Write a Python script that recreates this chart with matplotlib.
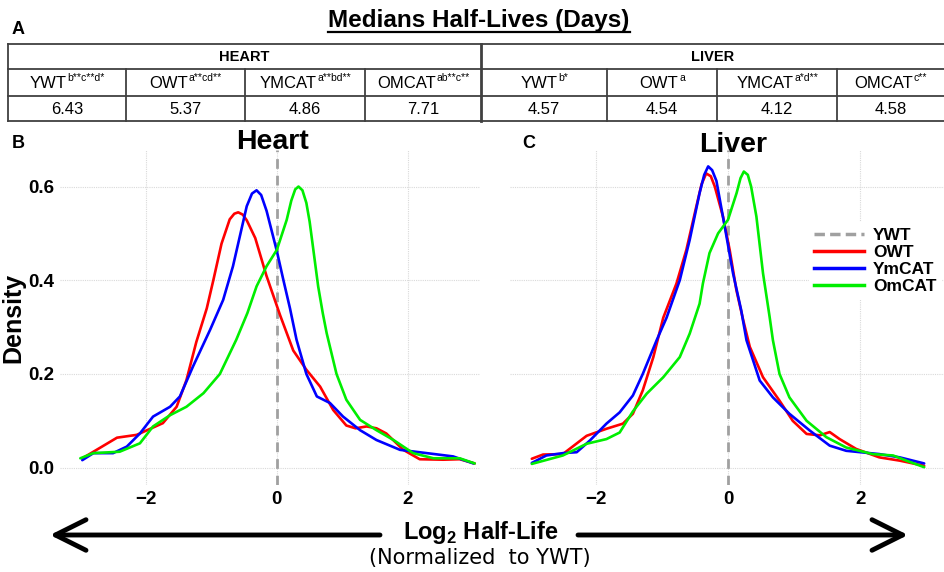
import numpy as np
import matplotlib
matplotlib.use("Agg")
import matplotlib.pyplot as plt
from matplotlib.lines import Line2D

plt.rcParams['font.family'] = ['Liberation Sans', 'DejaVu Sans']
plt.rcParams['mathtext.fontset'] = 'custom'
plt.rcParams['mathtext.rm'] = 'Liberation Sans'
plt.rcParams['mathtext.bf'] = 'Liberation Sans:bold'

# table data (median half-lives, days)
tissues = ['HEART', 'LIVER']
heart_groups = ['YWT', 'OWT', 'YMCAT', 'OMCAT']
heart_marks = ['b**c**d*', 'a**cd**', 'a**bd**', 'ab**c**']
heart_medians = ['6.43', '5.37', '4.86', '7.71']
liver_groups = ['YWT', 'OWT', 'YMCAT', 'OMCAT']
liver_marks = ['b*', 'a', 'a*d**', 'c**']
liver_medians = ['4.57', '4.54', '4.12', '4.58']

# density curves (log2 half-life normalised to YWT)
heart_owt_x = [-2.97, -2.80, -2.44, -2.14, -1.74, -1.53, -1.38, -1.23, -1.07, -0.97, -0.845, -0.72,
               -0.65, -0.59, -0.52, -0.46, -0.33, -0.16, 0.05, 0.25, 0.45, 0.66, 0.86, 1.06, 1.20,
               1.37, 1.52, 1.67, 1.93, 2.18, 2.54, 2.79, 3.02]
heart_owt_y = [0.020, 0.034, 0.064, 0.070, 0.095, 0.130, 0.187, 0.268, 0.340, 0.400, 0.478, 0.530,
               0.542, 0.545, 0.540, 0.528, 0.490, 0.410, 0.325, 0.250, 0.209, 0.173, 0.123, 0.090,
               0.084, 0.088, 0.084, 0.073, 0.038, 0.018, 0.017, 0.018, 0.009]

heart_ymcat_x = [-2.97, -2.80, -2.50, -2.29, -2.09, -1.89, -1.63, -1.48, -1.28, -1.02, -0.82, -0.67,
                 -0.565, -0.46, -0.38, -0.31, -0.24, -0.157, 0.0, 0.10, 0.20, 0.30, 0.45, 0.61,
                 0.81, 1.01, 1.27, 1.52, 1.88, 2.29, 2.69, 3.00]
heart_ymcat_y = [0.016, 0.031, 0.031, 0.045, 0.073, 0.109, 0.130, 0.152, 0.216, 0.294, 0.358, 0.430,
                 0.494, 0.558, 0.585, 0.592, 0.582, 0.548, 0.462, 0.400, 0.340, 0.273, 0.200, 0.152,
                 0.138, 0.109, 0.080, 0.059, 0.038, 0.031, 0.024, 0.009]

heart_omcat_x = [-3.00, -2.80, -2.40, -2.09, -1.89, -1.63, -1.38, -1.12, -0.87, -0.62, -0.45, -0.31,
                 -0.157, 0.0, 0.15, 0.22, 0.28, 0.33, 0.39, 0.45, 0.50, 0.55, 0.63, 0.70, 0.76, 0.91,
                 1.06, 1.27, 1.52, 1.78, 2.08, 2.39, 2.79, 3.02]
heart_omcat_y = [0.020, 0.031, 0.034, 0.052, 0.088, 0.112, 0.130, 0.159, 0.200, 0.273, 0.330, 0.387,
                 0.430, 0.465, 0.529, 0.570, 0.594, 0.600, 0.592, 0.565, 0.525, 0.472, 0.387, 0.330,
                 0.287, 0.200, 0.145, 0.102, 0.080, 0.059, 0.031, 0.020, 0.020, 0.009]

liver_owt_x = [-2.97, -2.80, -2.50, -2.14, -1.84, -1.59, -1.44, -1.29, -1.13, -0.98, -0.78, -0.63,
               -0.48, -0.40, -0.33, -0.26, -0.20, -0.076, 0.025, 0.127, 0.23, 0.33, 0.53, 0.78,
               0.98, 1.19, 1.39, 1.54, 1.69, 1.94, 2.29, 2.60, 2.97]
liver_owt_y = [0.019, 0.028, 0.029, 0.068, 0.083, 0.094, 0.115, 0.165, 0.236, 0.320, 0.393, 0.465,
               0.557, 0.605, 0.628, 0.622, 0.600, 0.536, 0.465, 0.379, 0.315, 0.258, 0.193, 0.143,
               0.100, 0.072, 0.069, 0.076, 0.061, 0.040, 0.022, 0.015, 0.004]

liver_ymcat_x = [-2.97, -2.75, -2.50, -2.29, -2.09, -1.84, -1.64, -1.44, -1.29, -1.08, -0.93, -0.73,
                 -0.58, -0.43, -0.36, -0.30, -0.24, -0.175, -0.05, 0.076, 0.20, 0.28, 0.48, 0.68,
                 0.93, 1.24, 1.54, 1.79, 2.29, 2.60, 2.97]
liver_ymcat_y = [0.010, 0.026, 0.031, 0.033, 0.058, 0.094, 0.118, 0.154, 0.200, 0.272, 0.320, 0.400,
                 0.486, 0.586, 0.625, 0.643, 0.635, 0.612, 0.515, 0.415, 0.336, 0.272, 0.186, 0.150,
                 0.115, 0.079, 0.047, 0.036, 0.029, 0.022, 0.009]

liver_omcat_x = [-2.97, -2.50, -2.14, -1.84, -1.64, -1.44, -1.23, -0.98, -0.73, -0.58, -0.43, -0.38,
                 -0.28, -0.15, 0.0, 0.13, 0.19, 0.24, 0.30, 0.35, 0.43, 0.53, 0.63, 0.68, 0.78, 0.93,
                 1.19, 1.49, 1.79, 2.19, 2.50, 2.70, 2.97]
liver_omcat_y = [0.008, 0.026, 0.051, 0.061, 0.075, 0.120, 0.158, 0.193, 0.236, 0.286, 0.350, 0.393,
                 0.458, 0.500, 0.529, 0.586, 0.618, 0.632, 0.625, 0.600, 0.536, 0.415, 0.322, 0.272,
                 0.200, 0.150, 0.100, 0.065, 0.043, 0.029, 0.026, 0.015, 0.001]

series_names = ['OWT', 'YmCAT', 'OmCAT']
series_colors = ['#ff0000', '#0000ff', '#00ee00']

W, H = 944, 572
fig = plt.figure(figsize=(W / 100, H / 100), dpi=100)

# overlay in pixel coordinates for the table, labels and arrow
over = fig.add_axes([0, 0, 1, 1], zorder=0)
over.set_xlim(0, W)
over.set_ylim(H, 0)
over.axis('off')


def px_axes(l, t, r, b):
    return fig.add_axes([l / W, (H - b) / H, (r - l) / W, (b - t) / H], zorder=2)


ax_h = px_axes(60, 150, 480, 485)
ax_l = px_axes(510, 150, 944, 485)

panels = [
    (ax_h, (-3.31, 3.10),
     [(heart_owt_x, heart_owt_y), (heart_ymcat_x, heart_ymcat_y), (heart_omcat_x, heart_omcat_y)]),
    (ax_l, (-3.30, 3.27),
     [(liver_owt_x, liver_owt_y), (liver_ymcat_x, liver_ymcat_y), (liver_omcat_x, liver_omcat_y)]),
]

for ax, xl, curves in panels:
    ax.patch.set_alpha(0)
    for s in ax.spines.values():
        s.set_visible(False)
    ax.set_xlim(*xl)
    ax.set_ylim(-0.037, 0.678)
    ax.set_xticks([-2, 0, 2])
    ax.set_xticklabels(['\u22122', '0', '2'])
    ax.set_yticks([0.0, 0.2, 0.4, 0.6])
    ax.set_yticklabels(['0.0', '0.2', '0.4', '0.6'])
    ax.tick_params(length=0, labelsize=13.5, pad=4)
    for lab in ax.get_xticklabels() + ax.get_yticklabels():
        lab.set_fontweight('bold')
    ax.grid(True, color='#d9d9d9', lw=0.8, ls=(0, (1, 1)))
    ax.set_axisbelow(True)
    ax.axvline(0, color='#a0a0a0', lw=2, ls=(0, (3.5, 2.5)), zorder=1)
    for (x, y), c in zip(curves, series_colors):
        ax.plot(x, y, color=c, lw=1.9, solid_joinstyle='round', solid_capstyle='round', zorder=3)

ax_l.set_yticklabels([])
ax_h.set_ylabel('Density', fontsize=18, fontweight='bold', labelpad=2)

over.text(272, 142, 'Heart', fontsize=20.5, fontweight='heavy', ha='center', va='center')
over.text(733, 145, 'Liver', fontsize=20.5, fontweight='heavy', ha='center', va='center')
over.text(12, 143, 'B', fontsize=13, fontweight='bold', ha='left', va='center')
over.text(522, 143, 'C', fontsize=13, fontweight='bold', ha='left', va='center')

# legend
handles = [Line2D([], [], color='#a0a0a0', lw=2.5, ls=(0, (3, 1.5)))]
handles += [Line2D([], [], color=c, lw=2.5) for c in series_colors]
ax_l.legend(handles, ['YWT'] + series_names, loc='center left',
            bbox_to_anchor=(800 / W, (H - 261) / H), bbox_transform=fig.transFigure,
            frameon=True, facecolor='white', edgecolor='none', framealpha=1,
            prop={'weight': 'bold', 'size': 12.5}, handlelength=2.9, handletextpad=0.5,
            labelspacing=0.12, borderpad=0.3)

renderer = fig.canvas.get_renderer()


def text_width(t):
    bb = t.get_window_extent(renderer=renderer)
    return bb.width


# title and table (panel A)
ttl = over.text(479, 20, 'Medians Half-Lives (Days)', fontsize=17.5, fontweight='bold',
                ha='center', va='center')
tw = text_width(ttl)
over.plot([479 - tw / 2, 479 + tw / 2], [32, 32], color='black', lw=1.6)
over.text(12, 30, 'A', fontsize=13, fontweight='bold', ha='left', va='center')

tc = '#404040'
row_y = [44, 69, 96, 121]
for y in row_y:
    over.plot([8, W], [y, y], color=tc, lw=1.3)
over.plot([8, 8], [44, 121], color=tc, lw=1.3)
over.plot([481, 481], [44, 121], color=tc, lw=2.0)
col_edges = [[8, 126, 245, 365, 481], [481, 607, 717, 837, W]]
for edges in col_edges:
    for x in edges[1:-1]:
        over.plot([x, x], [69, 121], color=tc, lw=1.3)

blocks = [(heart_groups, heart_marks, heart_medians), (liver_groups, liver_marks, liver_medians)]
for tissue, edges, (groups, marks, meds) in zip(tissues, col_edges, blocks):
    over.text((edges[0] + edges[-1]) / 2, 57, tissue, fontsize=10.5, fontweight='bold',
              ha='center', va='center')
    for i, (g, m, v) in enumerate(zip(groups, marks, meds)):
        cx = (edges[i] + edges[i + 1]) / 2
        main = over.text(0, 84, g, fontsize=12, ha='left', va='center')
        sup = over.text(0, 78, m, fontsize=7.5, ha='left', va='center')
        w1, w2 = text_width(main), text_width(sup)
        x0 = cx - (w1 + w2) / 2
        main.set_x(x0)
        sup.set_x(x0 + w1 + 0.5)
        over.text(cx, 109, v, fontsize=12, ha='center', va='center')

# bottom axis title with arrows
arrow_kw = dict(arrowstyle='->,head_length=1.1,head_width=0.55', lw=3.5, color='black',
                shrinkA=0, shrinkB=0, mutation_scale=20)
over.annotate('', xy=(50, 535), xytext=(380, 535), arrowprops=arrow_kw)
over.annotate('', xy=(908, 535), xytext=(578, 535), arrowprops=arrow_kw)
over.text(481, 533, r'Log$_{\mathbf{2}}$ Half-Life', fontsize=17, fontweight='bold',
          ha='center', va='center')
over.text(480, 558, '(Normalized  to YWT)', fontsize=15, family='DejaVu Sans',
          ha='center', va='center')

fig.savefig('out.png', dpi=100)
